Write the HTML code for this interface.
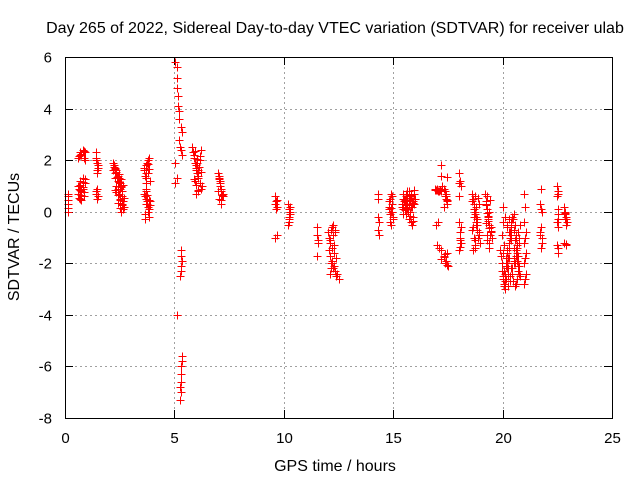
<!DOCTYPE html>
<html><head><meta charset="utf-8"><style>
html,body{margin:0;padding:0;background:#fff;}
svg{display:block;font-family:"Liberation Sans",sans-serif;}
</style></head><body>
<svg id="chart" width="640" height="480" viewBox="0 0 640 480">
<text x="335" y="33" font-size="16" text-anchor="middle">Day 265 of 2022, Sidereal Day-to-day VTEC variation (SDTVAR) for receiver ulab</text>
<text x="335" y="471" font-size="16" text-anchor="middle">GPS time / hours</text>
<text transform="translate(19,237) rotate(-90)" font-size="16" text-anchor="middle">SDTVAR / TECUs</text>
<g id="grid"></g>
<g id="ticks"></g>
<g id="marks"></g>
<rect x="65.5" y="57.5" width="547" height="361" fill="none" stroke="#000" stroke-width="1"/>
</svg>
<script>
const xTicks=[0,5,10,15,20,25];
const yTicks=[6,4,2,0,-2,-4,-6,-8];
const hours=[
0.15,0.15,0.15,0.15,0.15,0.15,
0.6,0.7,0.75,0.8,0.85,0.9,0.65,0.7,0.8,0.9,0.6,0.7,0.75,0.85,0.65,0.8,0.7,0.9,
1.4,1.45,1.5,1.45,1.4,1.5,1.45,1.4,1.5,
2.2,2.25,2.3,2.3,2.35,2.4,2.4,2.45,2.5,2.5,2.55,2.6,2.6,2.65,2.7,2.3,2.4,2.5,2.6,2.2,2.35,2.45,2.55,2.65,
3.6,3.65,3.7,3.75,3.8,3.85,3.9,3.7,3.8,3.6,3.7,3.75,3.8,3.85,3.9,3.7,3.8,3.65,
5.05,5.1,5.1,5.1,5.15,5.15,5.2,5.2,5.3,5.35,5.2,5.25,5.3,5.35,5.05,5.1,5.05,
5.3,5.3,5.35,5.3,5.3,5.25,5.1,5.35,5.35,5.3,5.3,5.3,5.25,5.3,5.25,
5.8,5.85,5.9,5.95,6.0,6.05,6.1,6.15,6.2,5.9,6.0,6.1,6.2,5.95,6.05,6.15,6.25,6.0,6.1,
7.0,7.05,7.1,7.15,7.2,7.05,7.15,7.1,7.0,7.2,
9.6,9.65,9.7,9.65,9.6,9.7,
10.2,10.25,10.3,10.25,10.2,10.3,
11.5,11.5,11.55,11.5,11.55,
12.0,12.05,12.1,12.15,12.2,12.25,12.3,12.1,12.2,12.3,12.35,12.4,12.45,12.5,12.05,12.15,12.25,
14.3,14.3,14.3,14.35,14.3,14.35,
14.8,14.85,14.9,14.95,15.0,14.85,14.95,14.9,14.8,
15.4,15.5,15.6,15.7,15.8,15.9,16.0,15.45,15.55,15.65,15.75,15.85,15.95,15.5,15.6,15.7,15.8,15.9,15.45,15.65,15.85,15.55,15.75,
16.9,17.0,17.1,17.2,16.95,17.05,17.0,17.1,17.2,17.3,17.4,17.5,17.35,17.45,17.2,17.2,17.25,17.3,17.4,17.45,17.35,17.3,17.4,
18.0,18.05,18.1,18.0,18.05,18.1,18.0,18.05,
18.6,18.65,18.7,18.75,18.8,18.85,18.9,18.95,18.65,18.75,18.85,18.7,18.8,18.9,18.6,18.75,
19.2,19.25,19.3,19.35,19.4,19.45,19.5,19.3,19.4,19.25,19.35,19.45,19.3,19.4,
19.9,19.95,20.0,20.05,20.1,20.15,20.2,20.25,20.3,20.35,20.4,20.45,20.5,20.55,20.6,20.65,20.7,20.75,20.8,
20.0,20.1,20.2,20.3,20.4,20.5,20.6,20.7,20.05,20.15,20.25,20.35,20.45,20.55,20.65,20.75,19.95,20.2,20.4,20.6,20.3,20.5,20.1,20.7,
21.0,21.0,21.05,21.0,21.05,21.0,21.05,21.0,
21.7,21.75,21.8,21.75,21.7,21.8,21.75,
22.5,22.55,22.5,22.55,22.5,22.55,22.5,22.55,
22.8,22.85,22.9,22.95,22.85,22.9,22.8,22.9,
0.65,0.75,0.85,0.7,0.8,0.9,0.65,0.75,0.85,0.7,0.8,0.6,0.75,0.85,
1.42,1.48,1.43,1.47,
2.25,2.35,2.45,2.55,2.65,2.3,2.4,2.5,2.6,2.28,2.38,2.48,2.58,2.68,2.33,2.43,2.53,
3.62,3.68,3.72,3.78,3.82,3.66,3.74,3.84,3.64,3.7,3.76,3.82,3.88,3.72,
5.92,6.02,6.12,6.22,5.88,5.98,6.08,6.18,6.0,6.1,
7.02,7.08,7.12,7.18,7.06,7.14,
9.62,9.68,10.22,10.28,10.24,
12.1,12.2,12.3,12.4,12.15,12.25,12.35,12.12,12.22,12.32,
14.82,14.88,14.92,14.98,14.86,14.94,
15.42,15.52,15.62,15.72,15.82,15.92,15.47,15.57,15.67,15.77,15.87,15.97,15.5,15.6,15.7,15.8,15.9,15.55,15.65,15.75,15.85,15.45,15.6,15.7,15.8,15.95,
16.92,17.02,17.12,16.97,17.07,17.17,17.32,17.38,17.42,17.48,17.36,17.44,17.42,17.48,17.46,
18.02,18.08,18.04,18.06,18.02,
18.62,18.68,18.72,18.78,18.82,18.88,18.92,18.66,18.74,18.84,18.7,18.8,18.9,18.64,18.76,18.86,
19.22,19.28,19.32,19.38,19.42,19.48,19.26,19.34,19.44,19.3,19.4,19.36,
19.92,19.98,20.02,20.08,20.12,20.18,20.22,20.28,20.32,20.38,20.42,20.48,20.52,20.58,20.62,20.68,20.72,20.78,
19.96,20.06,20.16,20.26,20.36,20.46,20.56,20.66,20.76,20.04,20.14,20.24,20.34,20.44,20.54,20.64,20.74,20.0,20.2,20.4,20.6,20.3,20.5,20.1,
21.02,21.03,21.02,21.03,
21.72,21.78,21.74,
22.52,22.53,22.52,22.53,
22.82,22.88,22.92,22.86,22.84,22.9
];
const sdtvar=[
0.0,0.15,0.3,0.45,0.6,0.7,
2.1,2.3,2.2,2.4,2.1,2.0,0.9,1.2,1.3,1.1,0.7,0.5,0.8,0.6,1.0,0.9,2.2,2.3,
2.1,1.9,1.7,1.5,0.8,0.6,0.5,2.3,1.8,
1.9,1.8,1.7,1.5,1.6,1.4,1.2,1.3,1.1,0.9,1.0,0.8,0.6,0.4,0.2,1.3,0.9,0.5,0.3,1.6,1.0,0.7,0.0,0.1,
1.6,1.4,1.8,1.9,2.0,2.1,1.2,1.1,1.5,0.7,0.5,0.3,0.0,-0.2,0.4,0.8,0.2,-0.3,
5.8,5.6,5.2,4.8,4.5,4.1,3.9,3.6,3.3,3.1,2.8,2.5,2.4,2.2,1.9,1.3,1.1,
-1.5,-1.7,-1.9,-2.1,-2.3,-2.5,-4.0,-5.6,-5.8,-6.0,-6.3,-6.6,-6.8,-7.0,-7.3,
2.5,2.3,2.1,1.9,1.7,1.5,1.3,1.1,0.9,2.2,1.6,0.8,2.4,1.2,1.9,2.0,1.0,0.7,1.4,
1.5,1.3,1.1,0.9,0.7,0.5,0.3,1.2,0.8,0.6,
0.6,0.4,0.2,0.1,-1.0,-0.9,
0.3,0.1,-0.1,-0.3,-0.5,0.2,
-0.6,-0.9,-1.1,-1.7,-1.2,
-0.8,-1.0,-1.2,-0.7,-0.6,-0.9,-1.3,-1.7,-1.9,-2.1,-2.3,-2.5,-2.4,-2.6,-1.5,-2.2,-0.5,
0.7,0.5,-0.2,-0.4,-0.7,-0.9,
0.2,0.5,0.7,0.0,-0.3,-0.1,0.3,-0.5,0.1,
0.2,0.5,0.7,0.8,0.6,0.4,0.5,-0.1,0.3,0.1,0.0,0.2,0.7,0.4,0.6,-0.3,-0.4,-0.2,0.5,0.8,-0.5,0.2,0.4,
0.9,0.9,0.8,0.8,-0.5,-0.4,-1.3,-1.4,-1.5,-1.7,-1.9,-2.1,-2.0,-1.6,1.8,1.4,1.0,0.9,0.6,0.4,0.8,0.2,0.5,
1.5,1.2,1.0,-0.4,-0.8,-1.2,-1.5,-1.0,
0.7,0.5,0.3,0.0,-0.2,-0.5,-0.8,-1.2,-1.5,0.6,-0.4,-1.0,0.2,-0.9,-0.7,-1.3,
0.7,0.4,0.1,-0.2,-0.5,-0.8,-1.0,0.6,-1.2,0.3,-0.3,-0.6,-0.9,0.0,
-1.5,-2.0,-2.5,-2.8,-3.0,-2.6,-2.2,-1.8,-1.4,-1.0,-0.6,-0.3,-0.1,-0.5,-0.9,-1.3,-1.7,-2.1,-2.5,
0.2,-0.2,-0.5,-0.8,-1.1,-1.4,-1.7,-2.0,-2.3,-2.6,-2.9,-2.7,-2.4,-2.0,-1.6,-1.2,-0.9,-1.5,-2.2,-2.8,-0.3,-1.9,-2.7,-0.8,
0.7,-0.4,-0.8,-1.2,-1.6,-2.0,-2.4,-2.8,
0.3,0.1,0.0,-0.6,-0.9,-1.2,-1.4,
1.0,0.8,0.6,-0.1,-0.4,-0.6,-1.3,-1.6,
0.2,0.0,-0.2,-0.4,-0.1,-0.5,-1.2,-1.3,
2.15,2.25,2.35,1.05,1.15,1.25,0.55,0.65,0.75,0.85,0.95,1.0,0.45,0.6,
2.0,1.6,0.7,0.9,
1.75,1.55,1.45,1.25,1.05,0.85,0.65,0.45,0.25,1.65,1.35,1.15,0.95,0.55,0.75,0.35,0.15,
1.7,1.5,1.3,1.85,1.65,0.6,0.4,0.1,-0.1,0.3,0.65,0.45,0.25,0.9,
2.35,2.05,1.75,1.55,1.25,1.05,0.85,2.15,1.8,1.6,
1.4,1.0,0.8,0.65,1.25,0.45,
0.3,0.45,-0.2,0.0,-0.4,
-1.1,-1.4,-1.6,-1.8,-2.0,-2.2,-0.8,-2.4,-2.0,-0.7,
0.4,0.15,0.0,-0.2,-0.4,0.6,
0.3,0.45,0.6,0.65,0.55,0.35,0.1,0.25,0.0,-0.15,0.4,0.3,0.5,0.15,0.6,0.2,-0.35,0.05,0.45,0.55,0.35,0.7,-0.1,0.25,0.65,
0.85,0.85,0.85,0.85,0.85,0.8,-1.85,-1.75,-1.65,-1.9,-2.05,0.6,0.3,0.7,0.45,
1.35,1.1,-0.6,-1.1,-1.35,
0.6,0.4,0.1,-0.1,-0.4,-0.7,-1.0,0.3,-0.6,-1.1,-0.3,-0.2,-0.5,-0.8,-0.6,-1.4,
0.55,0.25,-0.05,-0.35,-0.65,-0.9,-0.75,-0.45,-0.15,0.45,-1.1,-1.4,
-1.2,-1.7,-2.3,-2.6,-2.9,-2.4,-2.0,-1.6,-1.2,-0.8,-0.4,-0.2,-0.3,-0.7,-1.1,-1.5,-1.9,-2.3,
-0.5,-0.9,-1.3,-1.8,-2.2,-2.5,-2.7,-2.9,-2.6,-1.0,-1.6,-2.1,-2.5,-2.7,-2.2,-1.8,-1.4,-2.4,-0.4,-0.6,-0.9,-1.0,-1.8,-2.0,
-0.2,-1.0,-1.8,-2.6,
0.2,-0.8,-1.0,
0.9,0.7,-0.3,-1.4,
0.1,-0.1,-0.3,-1.25,-0.3,-0.05
];
const NS='http://www.w3.org/2000/svg';
const L=65,R=612,T=57,B=418;
function xs(h){return L+(h-0)/(25-0)*(R-L);}
function ys(v){return T+(6-v)/(6-(-8))*(B-T);}
const grid=document.getElementById('grid'),ticks=document.getElementById('ticks'),marks=document.getElementById('marks'),svg=document.getElementById('chart');
function line(p,x1,y1,x2,y2,st,dash){const l=document.createElementNS(NS,'line');l.setAttribute('x1',x1);l.setAttribute('y1',y1);l.setAttribute('x2',x2);l.setAttribute('y2',y2);l.setAttribute('stroke',st);if(dash)l.setAttribute('stroke-dasharray',dash);p.appendChild(l);return l;}
xTicks.forEach(t=>{const x=Math.round(xs(t))+0.5;
 if(t>0&&t<25){const g=line(grid,x,T,x,B,'#a0a0a0','2,3');

}
 line(ticks,x,B,x,B-8,'#000');line(ticks,x,T,x,T+8,'#000');
 const tx=document.createElementNS(NS,'text');tx.setAttribute('x',x);tx.setAttribute('y',443);tx.setAttribute('font-size','15');tx.setAttribute('text-anchor','middle');tx.textContent=t;
 
 
 svg.appendChild(tx);});
yTicks.forEach(t=>{const y=Math.round(ys(t))+0.5;
 if(t<6&&t>-8){const g=line(grid,L,y,R,y,'#a0a0a0','2,3');

}
 line(ticks,L,y,L+8,y,'#000');line(ticks,R,y,R-8,y,'#000');
 const tx=document.createElementNS(NS,'text');tx.setAttribute('x',52);tx.setAttribute('y',y+5);tx.setAttribute('font-size','15');tx.setAttribute('text-anchor','end');tx.textContent=t;
 
 
 svg.appendChild(tx);});
const n=Math.min(hours.length,sdtvar.length);
for(let i=0;i<n;i++){const x=Math.round(xs(hours[i]))+0.5,y=Math.round(ys(sdtvar[i]))+0.5;
 const p=document.createElementNS(NS,'path');p.setAttribute('d',`M${x-4} ${y}H${x+4}M${x} ${y-4}V${y+4}`);p.setAttribute('stroke','#f00');p.setAttribute('fill','none');
 
 
 marks.appendChild(p);}
</script>
</body></html>
